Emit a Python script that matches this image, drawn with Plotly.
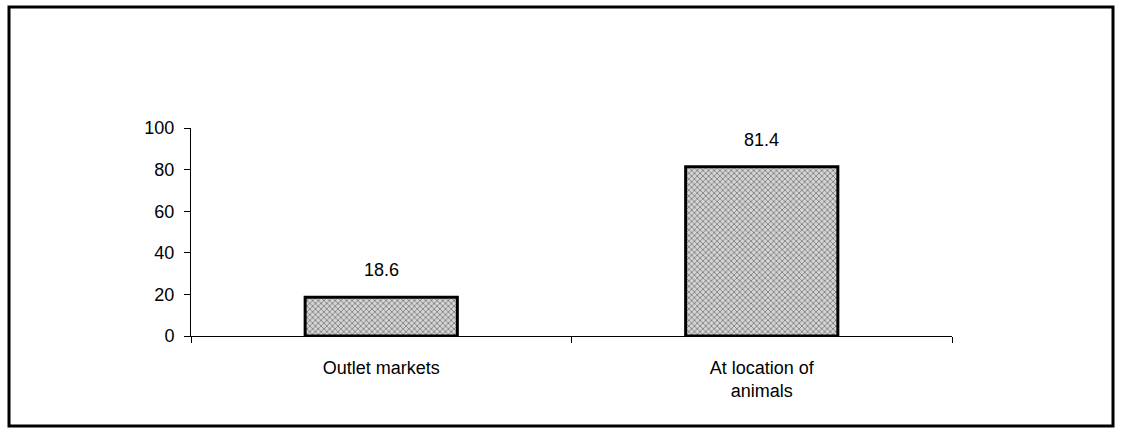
import plotly.graph_objects as go

# Data
categories = ["Outlet markets", "At location of<br>animals"]
values = [18.6, 81.4]
value_labels = ["18.6", "81.4"]
y_ticks = [0, 20, 40, 60, 80, 100]

W, H = 1122, 430
margin = dict(l=191, r=170, t=128, b=94)
plot_w = W - margin["l"] - margin["r"]
plot_h = H - margin["t"] - margin["b"]


def px_to_paper_x(px):
    return (px - margin["l"]) / plot_w


def px_to_paper_y(py):
    return (H - margin["b"] - py) / plot_h


font = dict(family="Liberation Sans, Arial, sans-serif", size=18, color="black")

fig = go.Figure()
fig.add_trace(
    go.Bar(
        x=categories,
        y=values,
        width=0.4,
        marker=dict(
            color="white",
            line=dict(color="black", width=3),
            pattern=dict(shape="x", size=4, solidity=0.35, fgcolor="#111111", bgcolor="#d4d4d4"),
        ),
        hoverinfo="skip",
    )
)

for cat, val, lab in zip(categories, values, value_labels):
    fig.add_annotation(
        x=cat, y=val, text=lab, showarrow=False, yshift=27, font=font
    )

# outer frame
fig.add_shape(
    type="rect",
    xref="paper",
    yref="paper",
    x0=px_to_paper_x(9),
    x1=px_to_paper_x(1113),
    y0=px_to_paper_y(426),
    y1=px_to_paper_y(7),
    line=dict(color="black", width=3),
    layer="above",
)

fig.update_layout(
    width=W,
    height=H,
    margin=margin,
    paper_bgcolor="white",
    plot_bgcolor="white",
    showlegend=False,
    font=font,
    bargap=0.6,
)
fig.update_xaxes(
    showline=True,
    linecolor="black",
    linewidth=1,
    ticks="outside",
    tickson="boundaries",
    ticklen=6,
    tickcolor="black",
    ticklabelstandoff=15,
    showgrid=False,
    zeroline=False,
)
fig.update_yaxes(
    range=[0, 100],
    tickvals=y_ticks,
    showline=True,
    linecolor="black",
    linewidth=1,
    ticks="outside",
    ticklen=6,
    tickcolor="black",
    ticklabelstandoff=6,
    showgrid=False,
    zeroline=False,
)

fig.write_html(
    "out.html",
    config={"displayModeBar": False},
    post_script="document.body.style.margin='0';",
)
